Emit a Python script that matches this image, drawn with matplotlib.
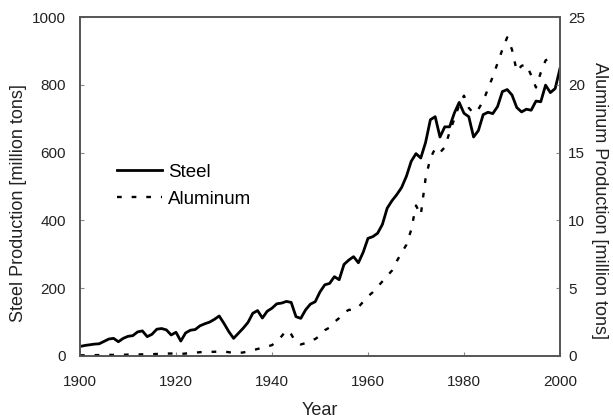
import matplotlib
matplotlib.use("Agg")
import matplotlib.pyplot as plt
import numpy as np

plt.rcParams['font.family'] = ['Liberation Sans', 'DejaVu Sans']

steel_years = list(range(1900, 2001))
steel = [28, 31, 33, 35, 36, 43, 50, 52, 42, 52, 58, 60, 71, 74, 57, 64, 79, 81, 77, 62,
         70, 44, 68, 76, 78, 89, 95, 100, 108, 118, 96, 72, 52, 67, 82, 99, 126, 134, 112, 132,
         141, 154, 156, 161, 158, 116, 111, 136, 153, 160, 189, 210, 214, 234, 225, 270, 283, 293, 275, 306,
         347, 352, 362, 388, 436, 458, 476, 497, 530, 574, 597, 584, 630, 697, 706, 646, 676, 676, 717, 748,
         716, 706, 646, 665, 712, 719, 715, 736, 780, 786, 770, 733, 720, 728, 725, 752, 750, 799, 777, 789,
         848]

alu_years = list(range(1900, 1999))
aluminum = [0.05, 0.05, 0.06, 0.06, 0.07, 0.07, 0.08, 0.08, 0.09, 0.09,
            0.1, 0.1, 0.11, 0.12, 0.12, 0.13, 0.15, 0.17, 0.18, 0.18,
            0.2, 0.15, 0.18, 0.22, 0.24, 0.28, 0.3, 0.3, 0.31, 0.33,
            0.32, 0.28, 0.22, 0.22, 0.26, 0.33, 0.42, 0.52, 0.6, 0.7,
            0.8, 1.1, 1.45, 1.9, 1.6, 1.0, 0.85, 0.95, 1.15, 1.25,
            1.5, 1.9, 2.1, 2.5, 2.8, 3.2, 3.4, 3.4, 3.6, 4.0,
            4.4, 4.7, 5.1, 5.5, 5.9, 6.3, 7.0, 7.6, 8.2, 9.3,
            11.1, 10.4, 13.1, 14.6, 15.3, 15.0, 15.4, 16.5, 17.5, 18.5,
            19.2, 18.3, 17.9, 18.2, 18.8, 19.7, 20.6, 21.6, 22.6, 23.5,
            22.6, 21.0, 21.4, 21.5, 20.7, 19.8, 20.9, 21.8, 22.0]

x_ticks = [1900, 1920, 1940, 1960, 1980, 2000]
steel_ticks = [0, 200, 400, 600, 800, 1000]
alu_ticks = [0, 5, 10, 15, 20, 25]

fig = plt.figure(figsize=(6.13, 4.19), dpi=100)
ax = fig.add_axes([0.1305, 0.1504, 0.783, 0.809])
ax2 = ax.twinx()

l1, = ax.plot(steel_years, steel, color='black', lw=2.0, solid_joinstyle='round', label='Steel')
l2, = ax2.plot(alu_years, aluminum, color='black', lw=1.7, linestyle=(0, (2, 4.2)), label='Aluminum')

ax.set_xlim(1900, 2000)
ax.set_ylim(0, 1000)
ax2.set_ylim(0, 25)
ax.set_xticks(x_ticks)
ax.set_yticks(steel_ticks)
ax2.set_yticks(alu_ticks)

spine_c = '#555555'
for a in (ax, ax2):
    for s in a.spines.values():
        s.set_color(spine_c)
        s.set_linewidth(1.2)
    a.tick_params(direction='in', length=3, color='#888888', labelsize=11, colors='#222222')
ax.tick_params(axis='x', pad=14)
ax.tick_params(axis='y', pad=10)
ax2.tick_params(axis='y', pad=6)

lab_fs = 13
ax.set_xlabel('Year', fontsize=lab_fs, color='#222222', labelpad=9)
ax.set_ylabel('Steel Production [million tons]', fontsize=lab_fs, color='#222222', labelpad=4)
ax2.set_ylabel('Aluminum Production [million tons]', fontsize=lab_fs, color='#222222',
               rotation=270, labelpad=16)
ax.yaxis.label.set_y(0.45)
ax2.yaxis.label.set_y(0.46)

leg = ax.legend(handles=[l1, l2], loc='upper left', bbox_to_anchor=(0.062, 0.59),
                frameon=False, fontsize=13.5, handlelength=2.4, handletextpad=0.3,
                labelspacing=0.55, borderaxespad=0)

fig.savefig('out.png', dpi=100)
